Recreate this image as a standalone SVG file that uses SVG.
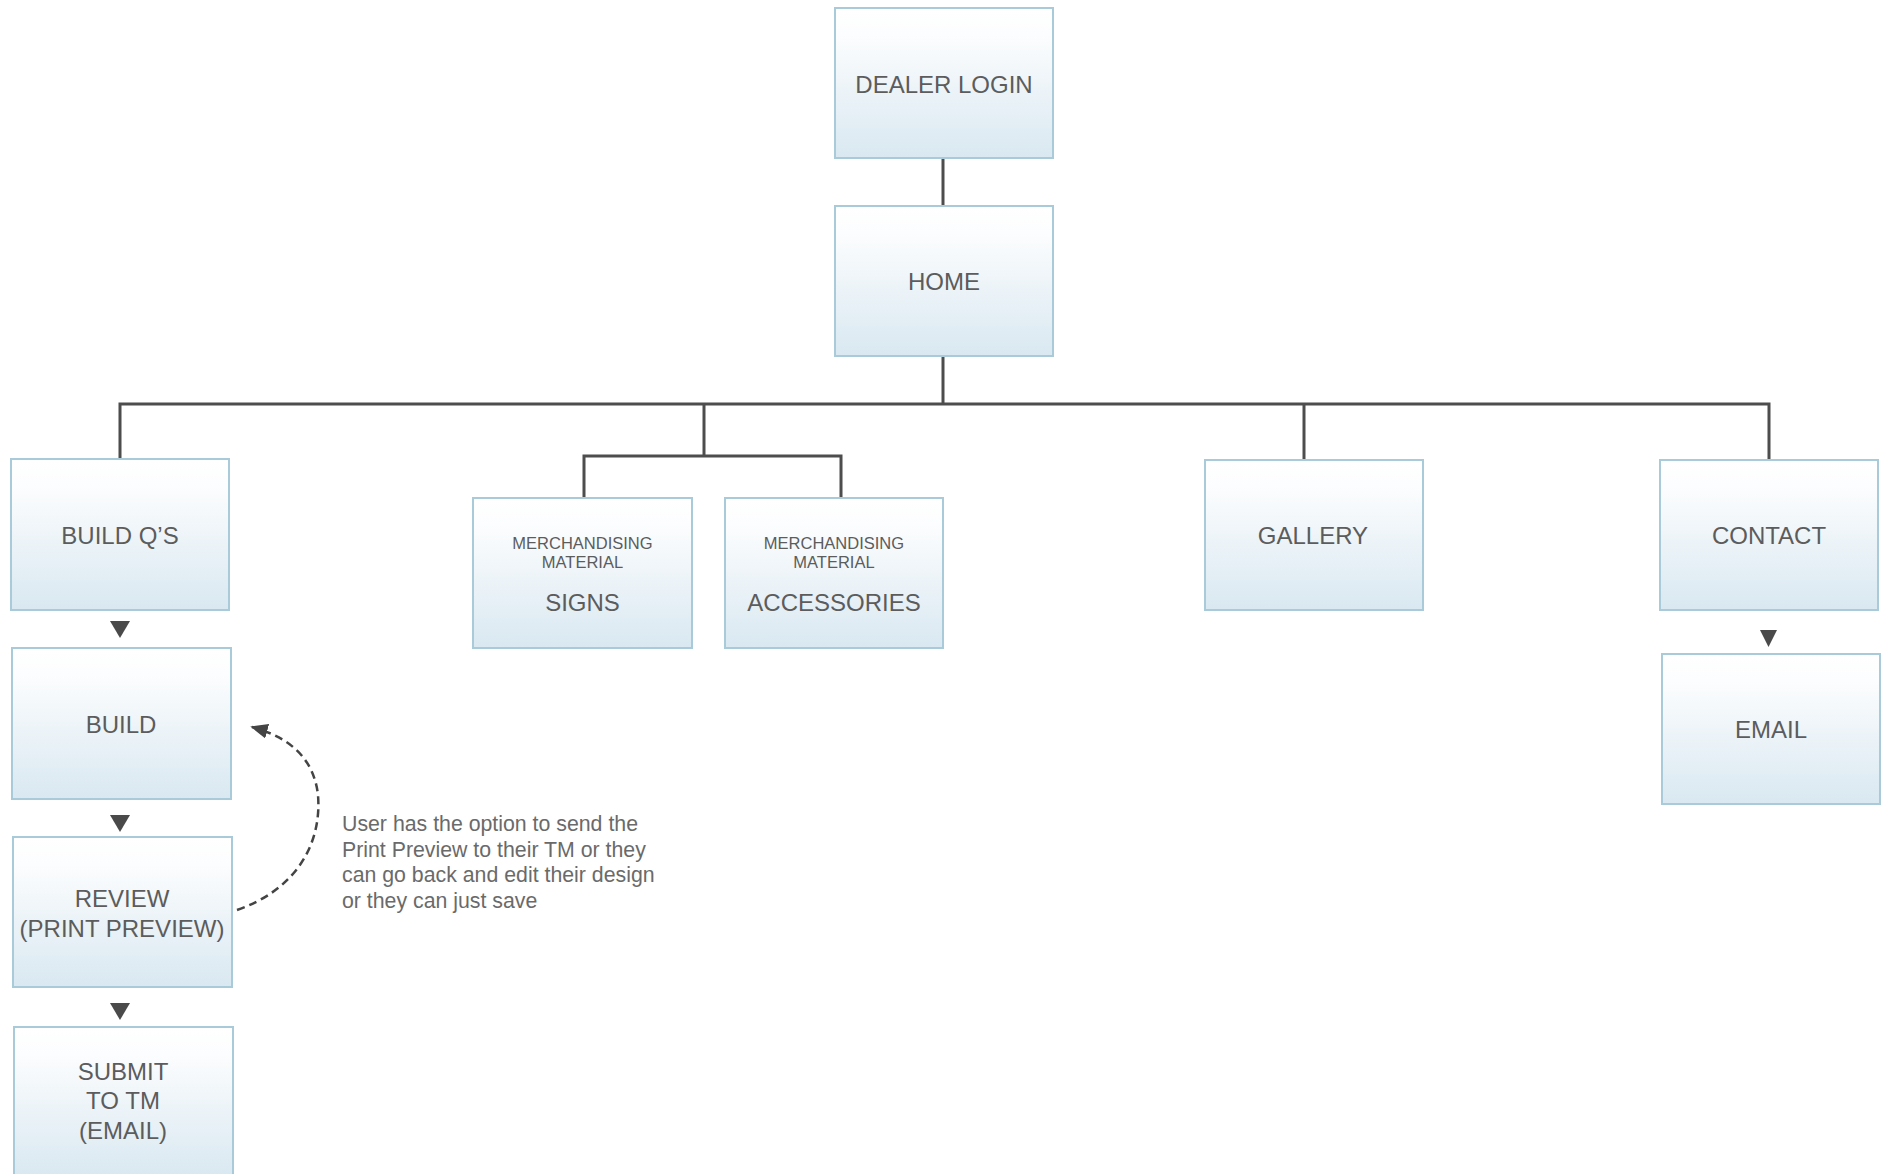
<svg xmlns="http://www.w3.org/2000/svg" width="1883" height="1174" viewBox="0 0 1883 1174">
  <defs>
    <linearGradient id="boxfill" x1="0" y1="0" x2="0" y2="1">
      <stop offset="0" stop-color="#ffffff"/>
      <stop offset="0.18" stop-color="#fcfdfe"/>
      <stop offset="1" stop-color="#d9e8f1"/>
    </linearGradient>
    <marker id="dasharrow" viewBox="0 0 10 10" refX="9" refY="5" markerWidth="7" markerHeight="6" markerUnits="strokeWidth" orient="auto" preserveAspectRatio="none">
      <path d="M0,0 L10,5 L0,10 Z" fill="#444444"/>
    </marker>
    <style>
      .box { fill: url(#boxfill); stroke: #a9cad9; stroke-width: 2; }
      .lbl { font-family: "Liberation Sans", Arial, sans-serif; font-size: 24px; fill: #5c5c5c; text-anchor: middle; dominant-baseline: central; }
      .sm { font-size: 16.5px; }
      .note { font-family: "Liberation Sans", Arial, sans-serif; font-size: 21.3px; fill: #6a6a6a; }
      .line { fill: none; stroke: #4d4d4d; stroke-width: 3; }
      .tri { fill: #4a4a4a; }
      .dash { fill: none; stroke: #444444; stroke-width: 2.5; stroke-dasharray: 8 5; }
    </style>
  </defs>
  <rect width="1883" height="1174" fill="#ffffff"/>

  <g id="connectors">
    <line class="line" x1="943" y1="158" x2="943" y2="206"/>
    <line class="line" x1="943" y1="356" x2="943" y2="404"/>
    <polyline class="line" points="120,459 120,404 1769,404 1769,460"/>
    <line class="line" x1="1304" y1="404" x2="1304" y2="460"/>
    <line class="line" x1="704" y1="404" x2="704" y2="456"/>
    <polyline class="line" points="584,498 584,456 841,456 841,498"/>
    <polygon class="tri" points="110,621 130,621 120,638"/>
    <polygon class="tri" points="110,815 130,815 120,832"/>
    <polygon class="tri" points="110,1003 130,1003 120,1020"/>
    <polygon class="tri" points="1760,630 1777,630 1768.5,647"/>
    <path class="dash" d="M237,910 C295,890 322,845 318,795 C314,760 292,738 252,727" marker-end="url(#dasharrow)"/>
  </g>

  <g id="node-dealer-login">
    <rect class="box" x="835" y="8" width="218" height="150"/>
    <text class="lbl" x="944" y="84">DEALER LOGIN</text>
  </g>
  <g id="node-home">
    <rect class="box" x="835" y="206" width="218" height="150"/>
    <text class="lbl" x="944" y="281">HOME</text>
  </g>
  <g id="node-build-qs">
    <rect class="box" x="11" y="459" width="218" height="151"/>
    <text class="lbl" x="120" y="535">BUILD Q’S</text>
  </g>
  <g id="node-build">
    <rect class="box" x="12" y="648" width="219" height="151"/>
    <text class="lbl" x="121" y="724">BUILD</text>
  </g>
  <g id="node-review">
    <rect class="box" x="13" y="837" width="219" height="150"/>
    <text class="lbl" x="122" y="898">REVIEW</text>
    <text class="lbl" x="122" y="928">(PRINT PREVIEW)</text>
  </g>
  <g id="node-submit">
    <rect class="box" x="14" y="1027" width="219" height="150"/>
    <text class="lbl" x="123" y="1071">SUBMIT</text>
    <text class="lbl" x="123" y="1100">TO TM</text>
    <text class="lbl" x="123" y="1130">(EMAIL)</text>
  </g>
  <g id="node-signs">
    <rect class="box" x="473" y="498" width="219" height="150"/>
    <text class="lbl sm" x="582.5" y="543">MERCHANDISING</text>
    <text class="lbl sm" x="582.5" y="562">MATERIAL</text>
    <text class="lbl" x="582.5" y="602">SIGNS</text>
  </g>
  <g id="node-accessories">
    <rect class="box" x="725" y="498" width="218" height="150"/>
    <text class="lbl sm" x="834" y="543">MERCHANDISING</text>
    <text class="lbl sm" x="834" y="562">MATERIAL</text>
    <text class="lbl" x="834" y="602">ACCESSORIES</text>
  </g>
  <g id="node-gallery">
    <rect class="box" x="1205" y="460" width="218" height="150"/>
    <text class="lbl" x="1313" y="535">GALLERY</text>
  </g>
  <g id="node-contact">
    <rect class="box" x="1660" y="460" width="218" height="150"/>
    <text class="lbl" x="1769" y="535">CONTACT</text>
  </g>
  <g id="node-email">
    <rect class="box" x="1662" y="654" width="218" height="150"/>
    <text class="lbl" x="1771" y="729">EMAIL</text>
  </g>

  <g id="note">
    <text class="note" x="342" y="831">User has the option to send the</text>
    <text class="note" x="342" y="857">Print Preview to their TM or they</text>
    <text class="note" x="342" y="882">can go back and edit their design</text>
    <text class="note" x="342" y="908">or they can just save</text>
  </g>
</svg>
